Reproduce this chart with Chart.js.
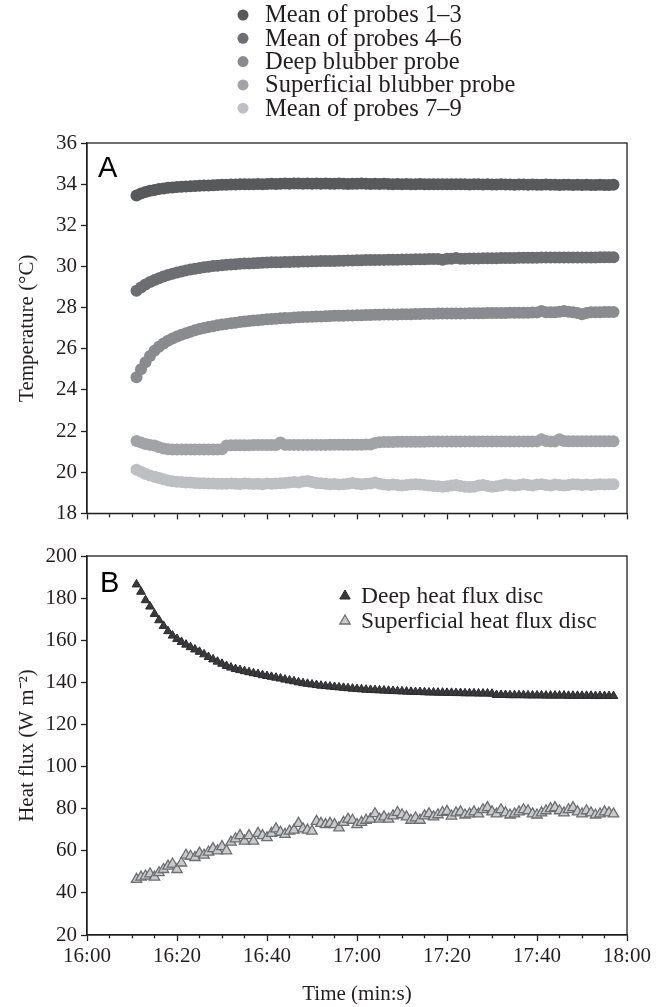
<!DOCTYPE html>
<html>
<head>
<meta charset="utf-8">
<script src="https://cdn.jsdelivr.net/npm/chart.js@4.4.1/dist/chart.umd.min.js"></script>
<style>
  html, body { margin: 0; padding: 0; background: #fff; }
  #wrap { position: relative; width: 670px; height: 1007px; }
  #chartA { position: absolute; left: 0; top: 0; }
  #chartB { position: absolute; left: 0; top: 530px; }
</style>
</head>
<body>
<div id="wrap">
  <canvas id="chartA" width="670" height="530"></canvas>
  <canvas id="chartB" width="670" height="477"></canvas>
</div>
<script>
// Sampling: one reading per minute, first reading at 16:11 (minutes after 16:00)
const firstMinute = 11;

// Panel A - temperatures (°C)
const probes13 = [
  33.45, 33.55, 33.62, 33.68, 33.72, 33.76, 33.79, 33.82, 33.84, 33.86,
  33.87, 33.89, 33.9, 33.91, 33.92, 33.93, 33.94, 33.95, 33.96, 33.97,
  33.97, 33.98, 33.98, 33.99, 33.99, 34.0, 34.0, 34.01, 34.0, 34.01,
  34.02, 34.01, 34.02, 34.03, 34.02, 34.03, 34.03, 34.02, 34.03, 34.02,
  34.03, 34.02, 34.03, 34.02, 34.02, 34.03, 34.02, 34.01, 34.02, 34.02,
  34.03, 34.02, 34.01, 34.02, 34.01, 34.02, 34.01, 34.0, 34.01, 34.0,
  34.01, 34.0, 34.0, 34.01, 34.0, 33.99, 34.0, 34.0, 33.99, 34.0,
  33.99, 33.99, 34.0, 33.99, 33.98, 33.99, 33.99, 33.98, 33.99, 33.98,
  33.98, 33.99, 33.98, 33.98, 33.97, 33.98, 33.98, 33.97, 33.98, 33.97,
  33.97, 33.98, 33.97, 33.97, 33.96, 33.97, 33.97, 33.96, 33.97, 33.96,
  33.97, 33.96, 33.96, 33.97, 33.96, 33.96, 33.97
];
const probes46 = [
  28.82, 28.98, 29.12, 29.24, 29.34, 29.43, 29.51, 29.58, 29.65, 29.71,
  29.76, 29.81, 29.85, 29.89, 29.93, 29.96, 29.99, 30.02, 30.04, 30.06,
  30.08, 30.1, 30.11, 30.13, 30.14, 30.15, 30.16, 30.17, 30.18, 30.19,
  30.2, 30.21, 30.21, 30.22, 30.22, 30.23, 30.23, 30.24, 30.24, 30.25,
  30.25, 30.26, 30.26, 30.27, 30.27, 30.28, 30.28, 30.29, 30.29, 30.3,
  30.3, 30.31, 30.31, 30.31, 30.32, 30.32, 30.33, 30.33, 30.33, 30.34,
  30.34, 30.34, 30.35, 30.35, 30.35, 30.36, 30.36, 30.36, 30.33, 30.37,
  30.37, 30.41, 30.38, 30.38, 30.39, 30.39, 30.39, 30.4, 30.4, 30.4,
  30.4, 30.41, 30.41, 30.41, 30.41, 30.42, 30.42, 30.42, 30.42, 30.42,
  30.43, 30.43, 30.43, 30.43, 30.43, 30.43, 30.44, 30.44, 30.44, 30.44,
  30.44, 30.44, 30.44, 30.45, 30.45, 30.45, 30.45
];
const deepBlubber = [
  24.62, 25.0, 25.35, 25.65, 25.9, 26.1, 26.26, 26.39, 26.5, 26.6,
  26.68, 26.76, 26.83, 26.9, 26.96, 27.01, 27.06, 27.1, 27.14, 27.18,
  27.21, 27.24, 27.27, 27.3, 27.32, 27.35, 27.37, 27.39, 27.41, 27.43,
  27.45, 27.46, 27.48, 27.49, 27.5, 27.52, 27.53, 27.54, 27.55, 27.56,
  27.57, 27.57, 27.58, 27.59, 27.6, 27.6, 27.61, 27.62, 27.62, 27.63,
  27.63, 27.64, 27.64, 27.65, 27.65, 27.66, 27.66, 27.67, 27.67, 27.68,
  27.68, 27.68, 27.69, 27.69, 27.7, 27.7, 27.7, 27.71, 27.71, 27.71,
  27.72, 27.72, 27.72, 27.72, 27.73, 27.73, 27.73, 27.73, 27.74, 27.74,
  27.74, 27.74, 27.74, 27.75, 27.75, 27.75, 27.75, 27.75, 27.76, 27.76,
  27.84, 27.78, 27.77, 27.78, 27.8, 27.84, 27.8, 27.78, 27.74, 27.68,
  27.74, 27.77, 27.78, 27.78, 27.79, 27.79, 27.79
];
const superficialBlubber = [
  21.52, 21.44, 21.37, 21.33, 21.3, 21.22, 21.15, 21.12, 21.11, 21.11,
  21.11, 21.11, 21.11, 21.11, 21.11, 21.11, 21.11, 21.11, 21.11, 21.12,
  21.3, 21.31, 21.31, 21.31, 21.31, 21.31, 21.32, 21.32, 21.32, 21.32,
  21.32, 21.32, 21.44, 21.33, 21.33, 21.33, 21.33, 21.33, 21.33, 21.33,
  21.33, 21.33, 21.33, 21.34, 21.34, 21.34, 21.34, 21.34, 21.34, 21.34,
  21.34, 21.35, 21.35, 21.42, 21.46, 21.47, 21.47, 21.47, 21.48, 21.48,
  21.48, 21.48, 21.48, 21.48, 21.48, 21.49, 21.49, 21.49, 21.49, 21.49,
  21.49, 21.49, 21.49, 21.5, 21.5, 21.5, 21.5, 21.5, 21.5, 21.5,
  21.5, 21.5, 21.5, 21.5, 21.5, 21.5, 21.5, 21.5, 21.5, 21.5,
  21.6, 21.52, 21.5, 21.5, 21.6, 21.52, 21.51, 21.51, 21.51, 21.51,
  21.51, 21.51, 21.51, 21.51, 21.51, 21.51, 21.51
];
const probes79 = [
  20.12, 20.02, 19.92, 19.84, 19.78, 19.72, 19.66, 19.6, 19.56, 19.54,
  19.52, 19.5, 19.5, 19.48, 19.46, 19.46, 19.45, 19.45, 19.44, 19.44,
  19.44, 19.45, 19.44, 19.43, 19.45, 19.44, 19.43, 19.44, 19.42, 19.45,
  19.44, 19.45, 19.47, 19.48, 19.5, 19.52, 19.5, 19.55, 19.58, 19.52,
  19.48, 19.46, 19.44, 19.42, 19.43, 19.41, 19.42, 19.44, 19.48, 19.44,
  19.42, 19.44, 19.45, 19.5, 19.44, 19.4, 19.38, 19.4, 19.38, 19.36,
  19.38, 19.4, 19.42, 19.4, 19.38, 19.35, 19.33, 19.32, 19.3, 19.32,
  19.35, 19.38, 19.33, 19.3, 19.28, 19.3, 19.35, 19.38, 19.33, 19.3,
  19.32, 19.36, 19.4, 19.38, 19.35, 19.38, 19.42, 19.38, 19.36, 19.4,
  19.42, 19.38, 19.36, 19.4, 19.38, 19.36, 19.38, 19.42, 19.4, 19.38,
  19.4, 19.38, 19.4, 19.42, 19.4, 19.42, 19.42
];

// Panel B - heat flux (W m-2)
const deepFlux = [
  186.5, 183, 179, 176, 172.5, 169.5, 166.8, 164.3, 162.2, 160.6,
  159.2, 157.9, 156.7, 155.6, 154.5, 153.3, 152, 150.9, 149.8, 148.8,
  147.8, 147, 146.3, 145.8, 145.3, 144.8, 144.3, 143.9, 143.4, 143,
  142.6, 142.2, 141.8, 141.3, 140.9, 140.5, 140, 139.6, 139.3, 139,
  138.7, 138.4, 138.2, 138, 137.8, 137.6, 137.4, 137.2, 137, 136.8,
  136.7, 136.5, 136.4, 136.3, 136.2, 136.1, 136, 135.9, 135.8, 135.7,
  135.6, 135.5, 135.4, 135.4, 135.3, 135.2, 135.2, 135.1, 135.1, 135,
  135, 134.9, 134.9, 134.8, 134.8, 134.8, 134.7, 134.7, 134.7, 134.6,
  134, 134, 134, 133.9, 133.9, 133.9, 133.9, 133.8, 133.8, 133.8,
  133.8, 133.7, 133.7, 133.7, 133.7, 133.7, 133.6, 133.6, 133.6, 133.6,
  133.6, 133.6, 133.5, 133.5, 133.5, 133.5, 133.5
];
const superficialFlux = [
  46.4, 47.5, 48, 49, 47.5, 49.6, 51.1, 52.7, 53.7, 51.1,
  54.2, 57.9, 57.4, 56.8, 58.9, 57.9, 59.4, 61, 60, 62,
  60, 64.1, 65.7, 67.2, 64.6, 67.2, 64.6, 68.3, 67.2, 66.2,
  68.3, 70.4, 68.8, 67.8, 69.3, 69.8, 73, 70.4, 69.8, 69.3,
  74, 73, 72.4, 73, 72.4, 70.9, 73.5, 75, 74.5, 72.4,
  73.5, 74.5, 75, 77.6, 75, 76.1, 75, 76.6, 78.2, 77.1,
  76.1, 74.5, 75.6, 74.5, 76.6, 77.6, 76.1, 77.1, 78.2, 78.7,
  76.5, 78, 78.5, 77, 77.5, 78.5, 77.5, 79.5, 80.5, 78.5,
  77.5, 79.5, 78, 77, 77.5, 78.5, 79.5, 79, 77.5, 77,
  78, 79, 80, 80.5, 79, 78, 79.5, 80.5, 78.5, 77.5,
  79, 78, 77, 77.5, 78.5, 78, 77.5
];

const INK = '#231f20';
const SERIF = '"Liberation Serif", "Times New Roman", serif';

function toPoints(values) {
  return values.map((v, i) => ({ x: firstMinute + i, y: v }));
}

function clockLabel(v) {
  const h = 16 + Math.floor(v / 60);
  const m = v % 60;
  return h + ':' + String(m).padStart(2, '0');
}

// box around the plot area + panel letter + stacked legend
const panelPlugin = {
  id: 'panel',
  afterDraw(chart, args, opts) {
    const ctx = chart.ctx;
    const a = chart.chartArea;
    ctx.save();
    ctx.strokeStyle = INK;
    ctx.lineWidth = 1.3;
    ctx.strokeRect(a.left, a.top, a.right - a.left, a.bottom - a.top);

    ctx.fillStyle = '#000';
    ctx.font = '29px "Liberation Sans", Arial, sans-serif';
    ctx.textBaseline = 'alphabetic';
    ctx.textAlign = 'left';
    ctx.fillText(opts.letter, a.left + opts.letterDx, a.top + opts.letterDy);

    ctx.font = opts.legendFont;
    ctx.textBaseline = 'middle';
    chart.data.datasets.forEach((ds, i) => {
      const y = opts.legendY + i * opts.legendGap;
      ctx.fillStyle = ds.backgroundColor;
      ctx.strokeStyle = ds.borderColor || ds.backgroundColor;
      ctx.lineWidth = ds.pointBorderWidth || 0;
      const r = opts.markerRadius;
      const x = opts.markerX;
      ctx.beginPath();
      if (ds.pointStyle === 'triangle') {
        ctx.moveTo(x, y - r);
        ctx.lineTo(x + r * 0.866, y + r * 0.5);
        ctx.lineTo(x - r * 0.866, y + r * 0.5);
        ctx.closePath();
      } else {
        ctx.arc(x, y, r, 0, Math.PI * 2);
      }
      ctx.fill();
      if (ds.pointBorderWidth) ctx.stroke();
      ctx.fillStyle = INK;
      ctx.fillText(ds.label, opts.textX, y + 1);
    });
    ctx.restore();
  }
};

function timeAxis(showLabels, height) {
  return {
    type: 'linear',
    min: 0,
    max: 120,
    afterFit: s => { s.height = height; },
    border: { color: INK, width: 1.3 },
    grid: {
      drawOnChartArea: false,
      tickLength: 6,
      tickColor: INK,
      tickWidth: 1.3,
      // short minor ticks every 5 min, full ones every 20 min
      tickBorderDash: c => (c.tick && c.tick.value % 20 === 0) ? [] : [3, 30]
    },
    ticks: {
      stepSize: 5,
      autoSkip: false,
      maxRotation: 0,
      padding: 3,
      color: INK,
      font: { family: SERIF, size: 21 },
      callback: v => (showLabels && v % 20 === 0) ? clockLabel(v) : ''
    },
    title: {
      display: showLabels,
      text: 'Time (min:s)',
      color: INK,
      font: { family: SERIF, size: 21 },
      padding: { top: 0, bottom: 0 }
    }
  };
}

function valueAxis(min, max, step, title) {
  return {
    min: min,
    max: max,
    afterFit: s => { s.width = 75; },
    border: { color: INK, width: 1.3 },
    grid: { drawOnChartArea: false, tickLength: 6, tickColor: INK, tickWidth: 1.3 },
    ticks: {
      stepSize: step,
      padding: 4,
      color: INK,
      font: { family: SERIF, size: 21 }
    },
    title: {
      display: true,
      text: title,
      color: INK,
      font: { family: SERIF, size: 21 },
      padding: { top: 3, bottom: 3 }
    }
  };
}

const dot = (label, values, color) => ({
  label: label,
  data: toPoints(values),
  backgroundColor: color,
  borderColor: color,
  pointRadius: 6,
  pointBorderWidth: 0,
  pointStyle: 'circle'
});

new Chart(document.getElementById('chartA'), {
  type: 'scatter',
  data: {
    datasets: [
      dot('Mean of probes 1\u20133', probes13, '#58595b'),
      dot('Mean of probes 4\u20136', probes46, '#6d6e71'),
      dot('Deep blubber probe', deepBlubber, '#8a8b8e'),
      dot('Superficial blubber probe', superficialBlubber, '#a2a3a6'),
      dot('Mean of probes 7\u20139', probes79, '#bebfc2')
    ]
  },
  options: {
    responsive: false,
    animation: false,
    devicePixelRatio: 1,
    layout: { padding: { left: 12, right: 43, top: 143, bottom: 0 } },
    plugins: {
      legend: { display: false },
      tooltip: { enabled: false },
      panel: {
        letter: 'A', letterDx: 11, letterDy: 34,
        legendFont: '24.5px ' + SERIF,
        legendY: 15, legendGap: 23.3,
        markerX: 243, markerRadius: 5.5, textX: 265
      }
    },
    scales: {
      x: timeAxis(false, 10),
      y: valueAxis(18, 36, 2, 'Temperature (\u00B0C)')
    }
  },
  plugins: [panelPlugin]
});

new Chart(document.getElementById('chartB'), {
  type: 'scatter',
  data: {
    datasets: [
      {
        label: 'Deep heat flux disc',
        data: toPoints(deepFlux),
        pointStyle: 'triangle',
        backgroundColor: '#3a3a3c',
        borderColor: '#2a2a2c',
        pointRadius: 5,
        pointBorderWidth: 1
      },
      {
        label: 'Superficial heat flux disc',
        data: toPoints(superficialFlux),
        pointStyle: 'triangle',
        backgroundColor: '#c9cacc',
        borderColor: '#6d6e71',
        pointRadius: 6,
        pointBorderWidth: 1.3
      }
    ]
  },
  options: {
    responsive: false,
    animation: false,
    devicePixelRatio: 1,
    layout: { padding: { left: 12, right: 43, top: 26, bottom: 0 } },
    plugins: {
      legend: { display: false },
      tooltip: { enabled: false },
      panel: {
        letter: 'B', letterDx: 13, letterDy: 36,
        legendFont: '23.5px ' + SERIF,
        legendY: 66, legendGap: 25,
        markerX: 345, markerRadius: 6, textX: 361
      }
    },
    scales: {
      x: timeAxis(true, 72),
      y: valueAxis(20, 200, 20, 'Heat flux (W m\u207B\u00B2)')
    }
  },
  plugins: [panelPlugin]
});
</script>
</body>
</html>
